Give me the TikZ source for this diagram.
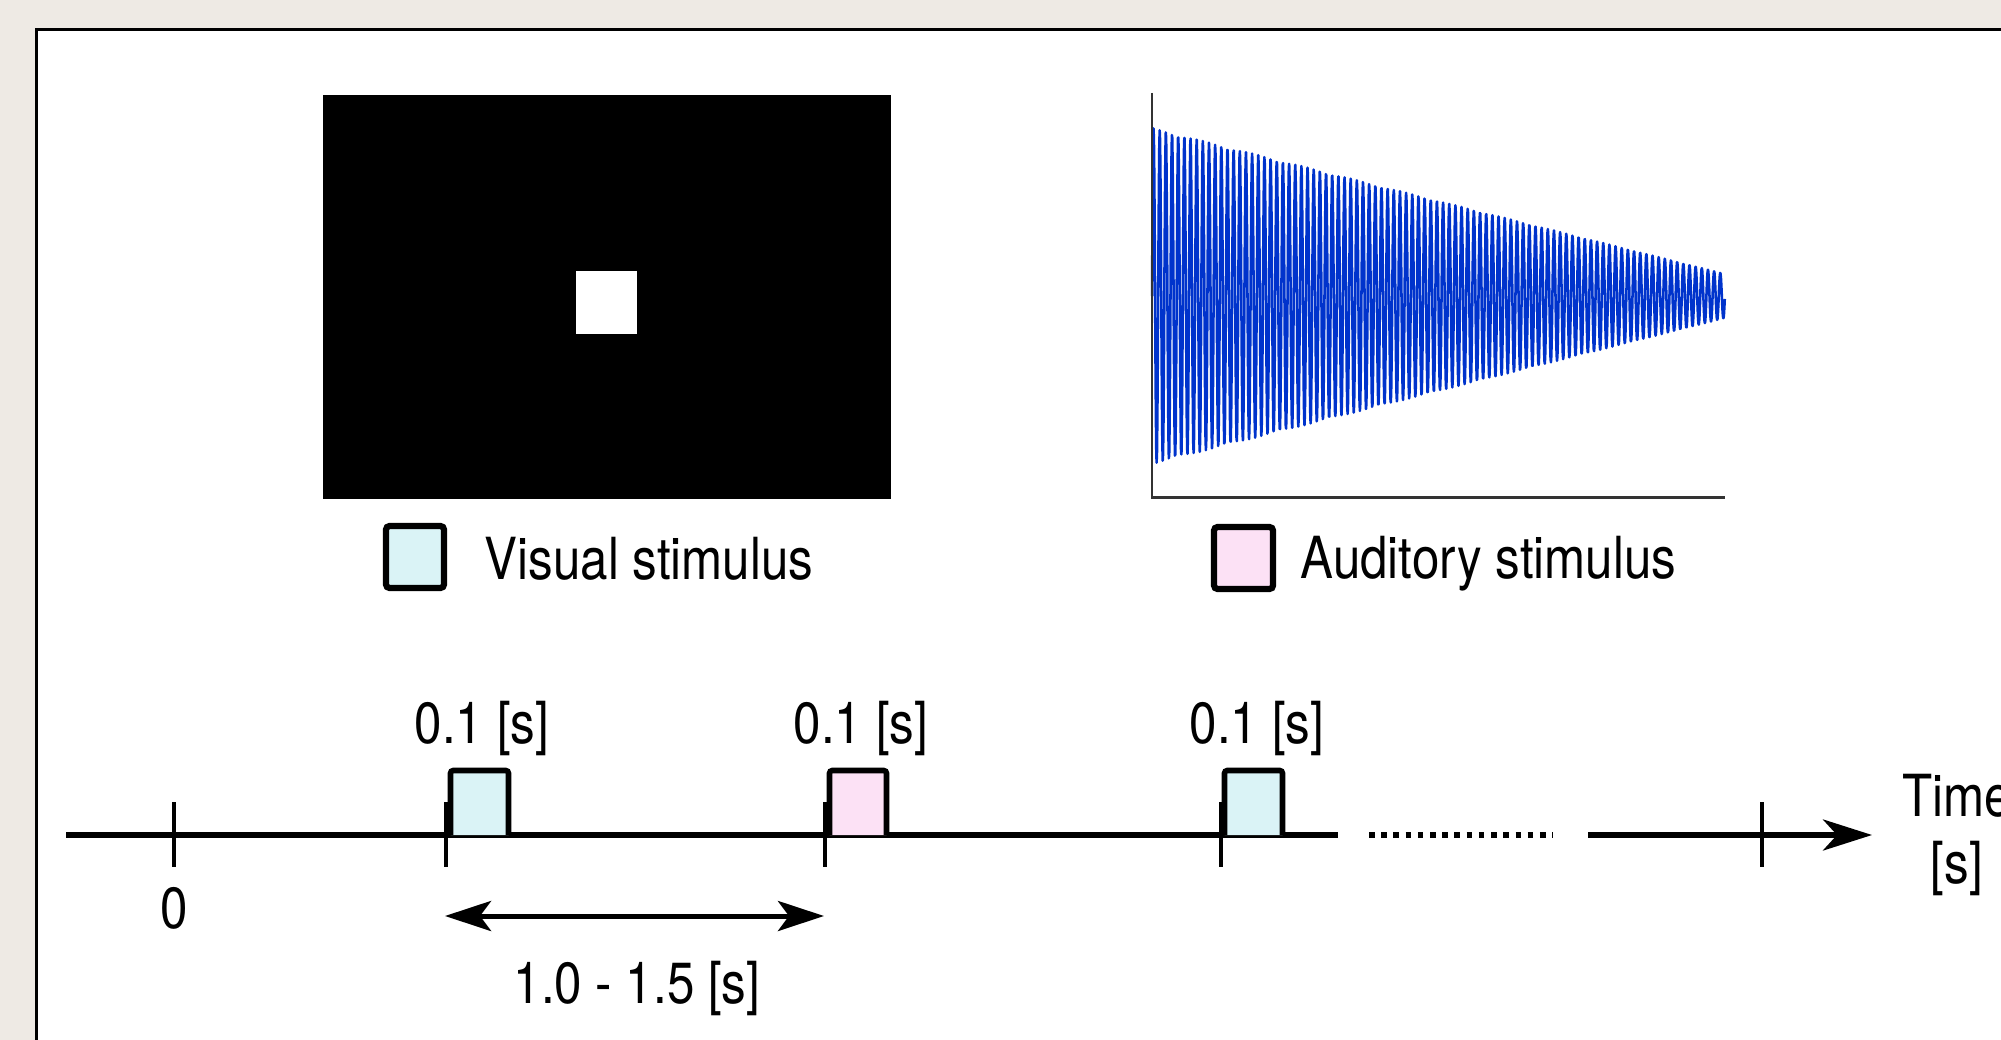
\documentclass[tikz,border=0pt]{standalone}
\usepackage{fontspec}
\setmainfont{TeX Gyre Heros}[FakeStretch=0.85]
\usetikzlibrary{arrows.meta}
\definecolor{bgbeige}{HTML}{EEEAE4}
\definecolor{visfill}{HTML}{DAF3F6}
\definecolor{audfill}{HTML}{FCE1F5}
\definecolor{wave}{HTML}{0033CC}
\definecolor{axisgray}{HTML}{333333}
\tikzset{
  bigtip/.tip={Stealth[length=4.6mm,width=3mm,inset=1.1mm]},
  timetip/.tip={Stealth[length=4.9mm,width=3.1mm,inset=1.4mm]}
}
\begin{document}
\begin{tikzpicture}[x=0.01cm,y=-0.01cm,
  lbl/.style={font=\fontsize{16.5}{19}\selectfont, inner sep=0pt, anchor=base},
  tline/.style={line width=0.056cm},
  tickmark/.style={line width=0.046cm},
  stimbox/.style={line width=0.056cm, rounded corners=0.8pt},
  legbox/.style={line width=0.062cm, rounded corners=1pt}
]
\useasboundingbox (0,0) rectangle (2001,1040);
\fill[bgbeige] (0,0) rectangle (2001,1040);
\filldraw[fill=white, draw=black, line width=0.03cm] (36.5,29.5) rectangle (2030,1070);

% visual stimulus picture
\fill[black] (323,95) rectangle (891,499);
\fill[white] (576,271) rectangle (637,334);

% auditory stimulus waveform
\draw[wave, line width=0.72pt, line join=round] plot[domain=0:93, samples=1500, variable=\t]
  ({1152+6.16*\t},{296-(168-146*\t/93)*sin(360*mod(\t,1))});
\coordinate (yaxtop) at (1152,93);
\coordinate (origin) at (1152,497.5);
\coordinate (xaxend) at (1725,497.5);
\draw[axisgray, line width=0.026cm] (yaxtop) -- (origin) -- (xaxend);

% legend
\draw[legbox, fill=visfill] (386,526) rectangle (444,588);
\node[lbl, anchor=base west] (vislbl) at (484,579) {Visual stimulus};
\draw[legbox, fill=audfill] (1214,527) rectangle (1273,589);
\node[lbl, anchor=base west] (audlbl) at (1300,578) {Auditory stimulus};

% timeline
\coordinate (tstart) at (66,835);
\coordinate (tend1) at (1338,835);
\coordinate (dotA) at (1369,835);
\coordinate (dotB) at (1553,835);
\coordinate (tresume) at (1588,835);
\coordinate (ttip) at (1872,835);
\draw[tline] (tstart) -- (tend1);
\draw[line width=0.058cm, dash pattern=on 0.056cm off 0.066cm] (dotA) -- (dotB);
\draw[tline, -{timetip}] (tresume) -- (ttip);

% stimulus boxes
\draw[stimbox, fill=visfill] (450.5,835) -- (450.5,770.5) -- (508.5,770.5) -- (508.5,835);
\draw[stimbox, fill=audfill] (829.5,835) -- (829.5,770.5) -- (886.5,770.5) -- (886.5,835);
\draw[stimbox, fill=visfill] (1224.5,835) -- (1224.5,770.5) -- (1282.5,770.5) -- (1282.5,835);

% ticks
\foreach \tx/\nm in {174/tk0, 446/tk1, 825/tk2, 1221/tk3, 1762/tk4} {
  \coordinate (\nm a) at (\tx,802);
  \coordinate (\nm b) at (\tx,867);
  \draw[tickmark] (\nm a) -- (\nm b);
}

% labels
\node[lbl] (d1) at (482,743) {0.1 [s]};
\node[lbl] (d2) at (861,743) {0.1 [s]};
\node[lbl] (d3) at (1257,743) {0.1 [s]};
\node[lbl] (zero) at (174,928) {0};

% interval arrow
\coordinate (ia) at (445,916);
\coordinate (ib) at (824,916);
\draw[line width=0.05cm, {bigtip}-{bigtip}] (ia) -- (ib);
\node[lbl] (interval) at (637,1003) {1.0 - 1.5 [s]};

% axis label
\node[lbl, align=center] (timelbl) at (1957,883) {Time\\{[s]}};
\end{tikzpicture}
\end{document}
